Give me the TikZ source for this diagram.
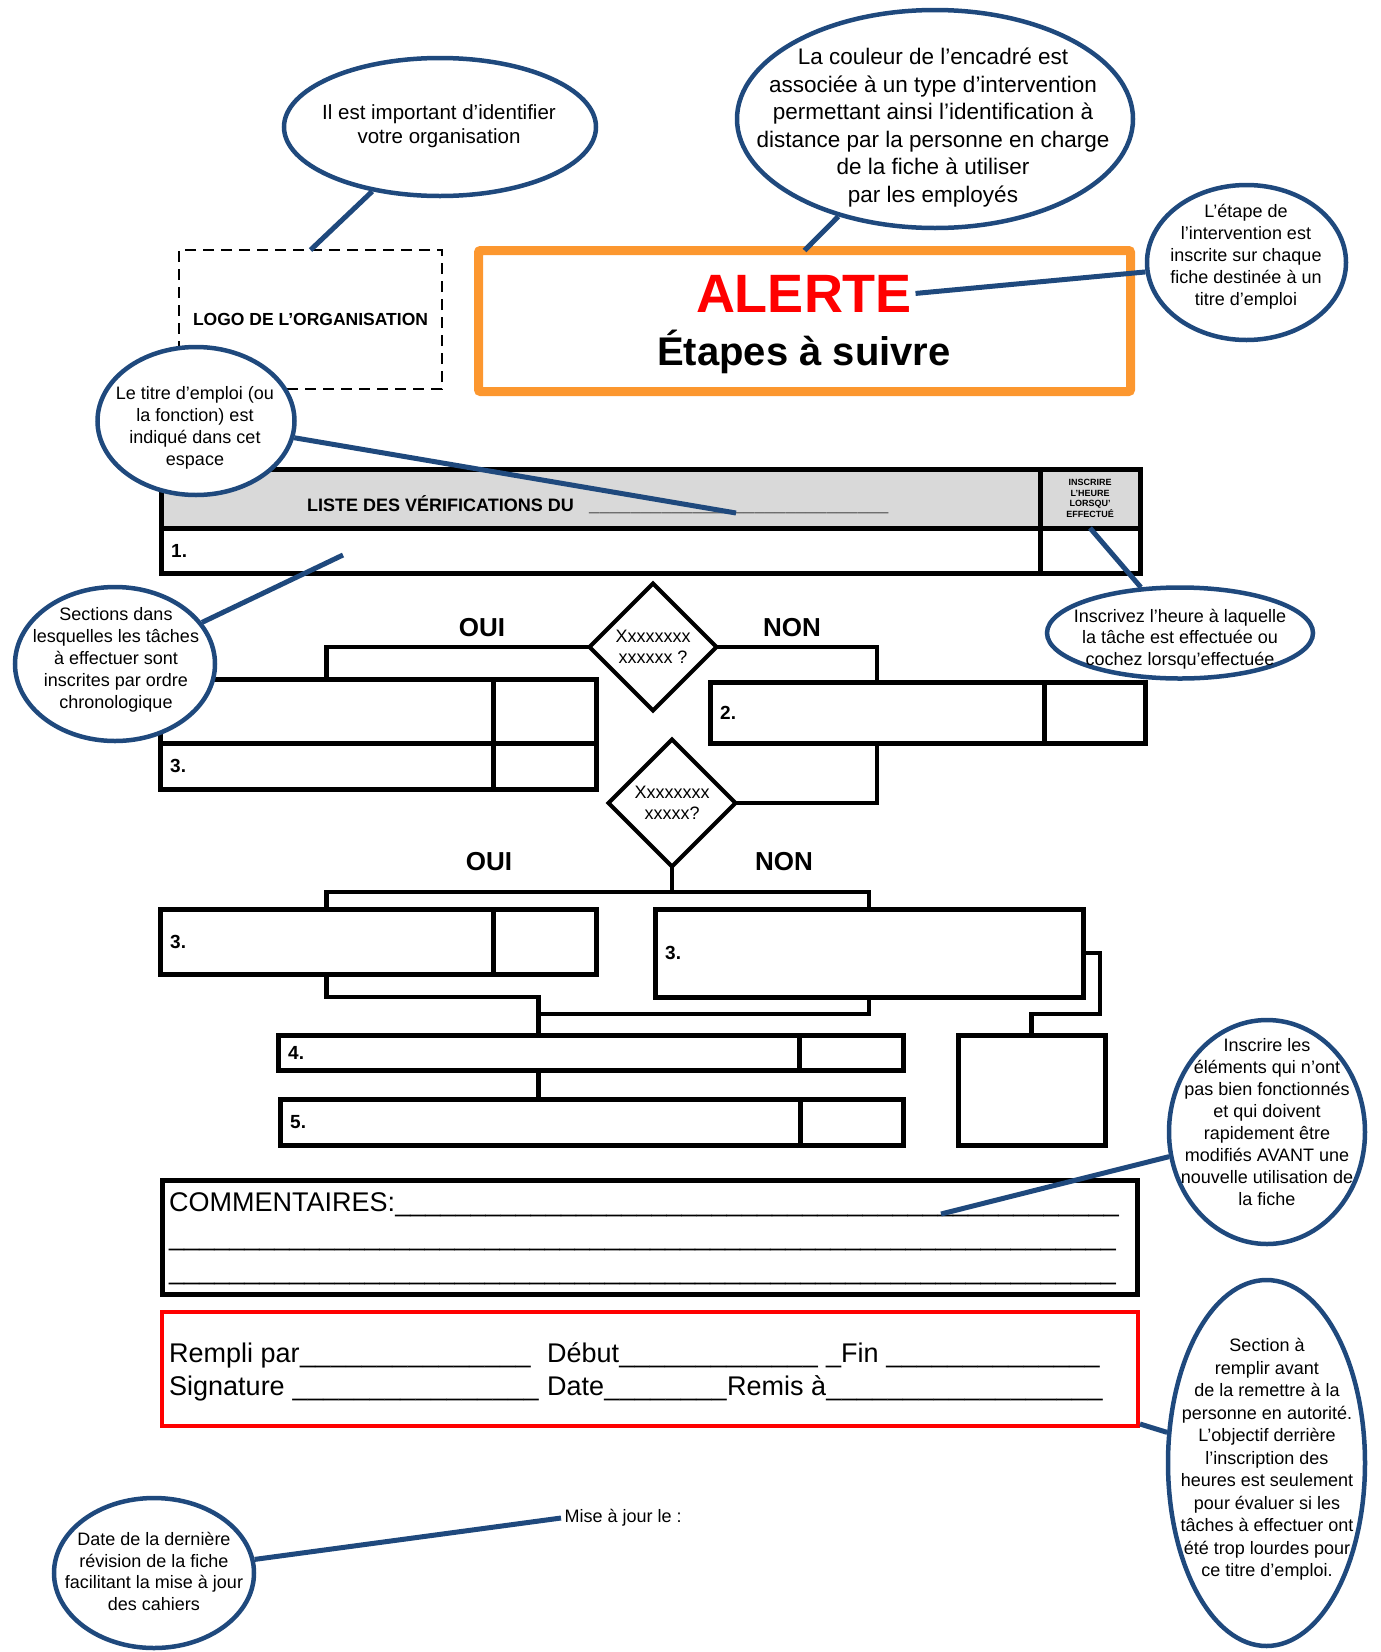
\documentclass[tikz,border=0pt]{standalone}
\usepackage{fontspec}
\setmainfont{Liberation Sans}
\usetikzlibrary{shapes.geometric}

\definecolor{bleu}{RGB}{31,73,125}
\definecolor{orangeAlerte}{RGB}{252,151,47}
\definecolor{grisEntete}{RGB}{217,217,217}
\newcommand\champ[2]{\makebox[#1pt][l]{#2\xleaders\hbox{\_}\hfill}}

\begin{document}
\begin{tikzpicture}[x=1pt,y=-1pt]
        \tikzstyle{bulle}=[ellipse, draw=bleu, line width=4.5pt, fill=white, inner sep=0pt]
        \tikzstyle{note}=[align=center, font=\fontsize{18}{22}\selectfont]
        \tikzstyle{lien}=[draw=bleu, line width=5pt]
        \tikzstyle{case}=[rectangle, draw=black, line width=5pt, fill=white, inner sep=0pt, outer sep=0pt, anchor=north west]
        \tikzstyle{num}=[anchor=west, inner xsep=10pt, font=\fontsize{19}{22}\selectfont\bfseries]
        \tikzstyle{choix}=[diamond, draw=black, line width=4pt, fill=white, minimum width=127pt, minimum height=127pt, inner sep=0pt, outer sep=0pt, align=center, font=\fontsize{18}{21}\selectfont]
        \tikzstyle{flux}=[draw=black, line width=4.5pt]
        \tikzstyle{branche}=[font=\fontsize{26}{30}\selectfont\bfseries]
        \tikzstyle{ligne}=[anchor=base west, inner sep=0pt]

        \useasboundingbox (0,0) rectangle (1381,1652);

        \node[draw, line width=1.8pt, dash pattern=on 11pt off 7pt, minimum width=263pt, minimum height=139pt, anchor=north west, inner sep=0pt, outer sep=0pt, font=\fontsize{17.5}{20}\selectfont\bfseries] (logo) at (179,250) {LOGO DE L’ORGANISATION};
        \node[draw=orangeAlerte, line width=9pt, rounded corners=2pt, minimum width=652pt, minimum height=141pt, anchor=north west, inner sep=0pt, outer sep=0pt] (cadre) at (478.5,250.5) {};
        \node[anchor=base, text=red, font=\fontsize{54}{60}\selectfont\bfseries] (motAlerte) at (804,312) {ALERTE};
        \node[anchor=base, font=\fontsize{40}{46}\selectfont\bfseries] (etapes) at (804,365) {Étapes à suivre};

        \node[case, fill=grisEntete, minimum width=879pt, minimum height=59pt] (entete) at (161,469) {};
        \node[case, fill=grisEntete, minimum width=100pt, minimum height=59pt, align=center, font=\fontsize{9}{10.7}\selectfont\bfseries] (enteteCase) at (1040,469) {INSCRIRE\\L’HEURE\\LORSQU’\\EFFECTUÉ};
        \node[ligne, font=\fontsize{18}{22}\selectfont\bfseries] (liste) at (307,511) {LISTE DES VÉRIFICATIONS DU\hspace{15pt}\champ{300}{}};
        \node[case, minimum width=879pt, minimum height=45pt] (ligne1) at (161,528) {};
        \node[case, minimum width=100pt, minimum height=45pt] (ligne1Case) at (1040,528) {};
        \node[num] at (ligne1.west) {1.};

        \node[choix] (d1) at (653,647) {Xxxxxxxx\\xxxxxx ?};
        \node[choix] (d2) at (672,803) {Xxxxxxxx\\xxxxx?};

        \node[case, minimum width=333pt, minimum height=64pt] (boiteA) at (160,679) {};
        \node[case, minimum width=103pt, minimum height=64pt] (boiteACase) at (493,679) {};
        \node[case, minimum width=333pt, minimum height=46pt] (boiteB) at (160,743) {};
        \node[case, minimum width=103pt, minimum height=46pt] (boiteBCase) at (493,743) {};
        \node[num] at (boiteB.west) {3.};
        \node[case, minimum width=334pt, minimum height=61pt] (boite2) at (710,682) {};
        \node[case, minimum width=101pt, minimum height=61pt] (boite2Case) at (1044,682) {};
        \node[num] at (boite2.west) {2.};
        \node[case, minimum width=333pt, minimum height=65pt] (boite3g) at (160,909) {};
        \node[case, minimum width=103pt, minimum height=65pt] (boite3gCase) at (493,909) {};
        \node[num] at (boite3g.west) {3.};
        \node[case, minimum width=428pt, minimum height=88pt] (boite3d) at (655,909) {};
        \node[num] at (boite3d.west) {3.};
        \node[case, minimum width=521pt, minimum height=35pt] (boite4) at (278,1035) {};
        \node[case, minimum width=104pt, minimum height=35pt] (boite4Case) at (799,1035) {};
        \node[num] at (boite4.west) {4.};
        \node[case, minimum width=520pt, minimum height=46pt] (boite5) at (280,1099) {};
        \node[case, minimum width=103pt, minimum height=46pt] (boite5Case) at (800,1099) {};
        \node[num] at (boite5.west) {5.};
        \node[case, minimum width=147pt, minimum height=110pt] (cote) at (958,1035) {};

        \node[branche] at (482,628) {OUI};
        \node[branche] at (792,628) {NON};
        \node[branche] at (489,862) {OUI};
        \node[branche] at (784,862) {NON};

        \coordinate (barre) at (672,892);
        \coordinate (jonc1) at (538.5,997);
        \coordinate (jonc2) at (538.5,1014);
        \coordinate (jonc3) at (1100,1014);

        \draw[flux] (d1.west) -| (boiteA.north);
        \draw[flux] (d1.east) -| (boite2.north);
        \draw[flux] (boite2.south) |- (d2.east);
        \draw[flux] (d2.south) -- (barre);
        \draw[flux] (boite3g.north) |- (barre) -| (boite3d.north);
        \draw[flux] (boite3g.south) |- (jonc1) -- (boite4.north);
        \draw[flux] (boite3d.south) |- (jonc2);
        \draw[flux] (boite3d.east) -| (jonc3) -| (cote.north);
        \draw[flux] (boite4.south) -- (boite4.south |- boite5.north);

        \node[case, minimum width=975pt, minimum height=114pt] (commentaires) at (162.5,1180.5) {};
        \node[ligne, font=\fontsize{27}{34}\selectfont] (comm1) at (169,1211) {\champ{950}{COMMENTAIRES:}};
        \node[ligne, font=\fontsize{27}{34}\selectfont] (comm2) at (169,1245) {\champ{947}{}};
        \node[ligne, font=\fontsize{27}{34}\selectfont] (comm3) at (169,1279) {\champ{947}{}};

        \node[case, draw=red, line width=4pt, fill=none, minimum width=976pt, minimum height=114pt] (rouge) at (162,1312) {};
        \node[ligne, font=\fontsize{27}{33}\selectfont] (rempli) at (169,1362) {\champ{362}{Rempli par}\hspace{16pt}\champ{271}{Début}\hspace{8pt}\champ{274}{\_Fin }};
        \node[ligne, font=\fontsize{27}{33}\selectfont] (signature) at (169,1395) {\champ{370}{Signature }\hspace{8pt}\champ{180}{Date}\champ{376}{Remis à}};

        \node[anchor=west, font=\fontsize{18}{22}\selectfont] (maj) at (561,1518) {Mise à jour le :};

        \node[bulle, minimum width=312pt, minimum height=138pt] (bLogo) at (440,127) {};
        \node[note, font=\fontsize{20.5}{24}\selectfont] at (439,126) {Il est important d’identifier\\votre organisation};
        \node[bulle, minimum width=396pt, minimum height=218pt] (bCouleur) at (935,119) {};
        \node[note, font=\fontsize{22.5}{27.6}\selectfont] at (933,127.5) {La couleur de l’encadré est\\associée à un type d’intervention\\permettant ainsi l’identification à\\distance par la personne en charge\\de la fiche à utiliser\\par les employés};
        \node[bulle, minimum width=199pt, minimum height=155pt] (bEtape) at (1246.5,262.5) {};
        \node[note] at (1246,257) {L’étape de\\l’intervention est\\inscrite sur chaque\\fiche destinée à un\\titre d’emploi};
        \node[bulle, minimum width=197pt, minimum height=148pt] (bTitre) at (196,421) {};
        \node[note] at (195,428) {Le titre d’emploi (ou\\la fonction) est\\indiqué dans cet\\espace};
        \node[bulle, minimum width=200pt, minimum height=154pt] (bSections) at (115,664) {};
        \node[note] at (116,659.5) {Sections dans\\lesquelles les tâches\\à effectuer sont\\inscrites par ordre\\chronologique};
        \node[bulle, minimum width=266pt, minimum height=91pt] (bHeure) at (1180,633) {};
        \node[note, font=\fontsize{18}{21.5}\selectfont] at (1180,639) {Inscrivez l’heure à laquelle\\la tâche est effectuée ou\\cochez lorsqu’effectuée};
        \node[bulle, minimum width=196pt, minimum height=224pt] (bInscrire) at (1267,1132) {};
        \node[note] at (1267,1122.5) {Inscrire les\\éléments qui n’ont\\pas bien fonctionnés\\et qui doivent\\rapidement être\\modifiés AVANT une\\nouvelle utilisation de\\la fiche};
        \node[bulle, minimum width=197pt, minimum height=366pt] (bSection) at (1266.5,1463) {};
        \node[note, font=\fontsize{18}{22.5}\selectfont] at (1267,1459.5) {Section à\\remplir avant\\de la remettre à la\\personne en autorité.\\L’objectif derrière\\l’inscription des\\heures est seulement\\pour évaluer si les\\tâches à effectuer ont\\été trop lourdes pour\\ce titre d’emploi.};
        \node[bulle, minimum width=200pt, minimum height=150pt] (bDate) at (154,1573) {};
        \node[note, font=\fontsize{18}{21.7}\selectfont] at (154,1571.5) {Date de la dernière\\révision de la fiche\\facilitant la mise à jour\\des cahiers};

        \coordinate (ptTitre) at (736,513);
        \coordinate (ptSection) at (343,555);
        \coordinate (ptComm) at (941,1214);
        \coordinate (ptRouge) at (1140,1424);

        \draw[lien] (bLogo) -- (logo.north);
        \draw[lien] (bCouleur) -- (cadre.north);
        \draw[lien] (motAlerte.east) -- (bEtape);
        \draw[lien] (bTitre) -- (ptTitre);
        \draw[lien] (bSections) -- (ptSection);
        \draw[lien] (enteteCase.south) -- (bHeure);
        \draw[lien] (ptComm) -- (bInscrire);
        \draw[lien] (ptRouge) -- (bSection);
        \draw[lien] (bDate) -- (maj.west);
\end{tikzpicture}
\end{document}
